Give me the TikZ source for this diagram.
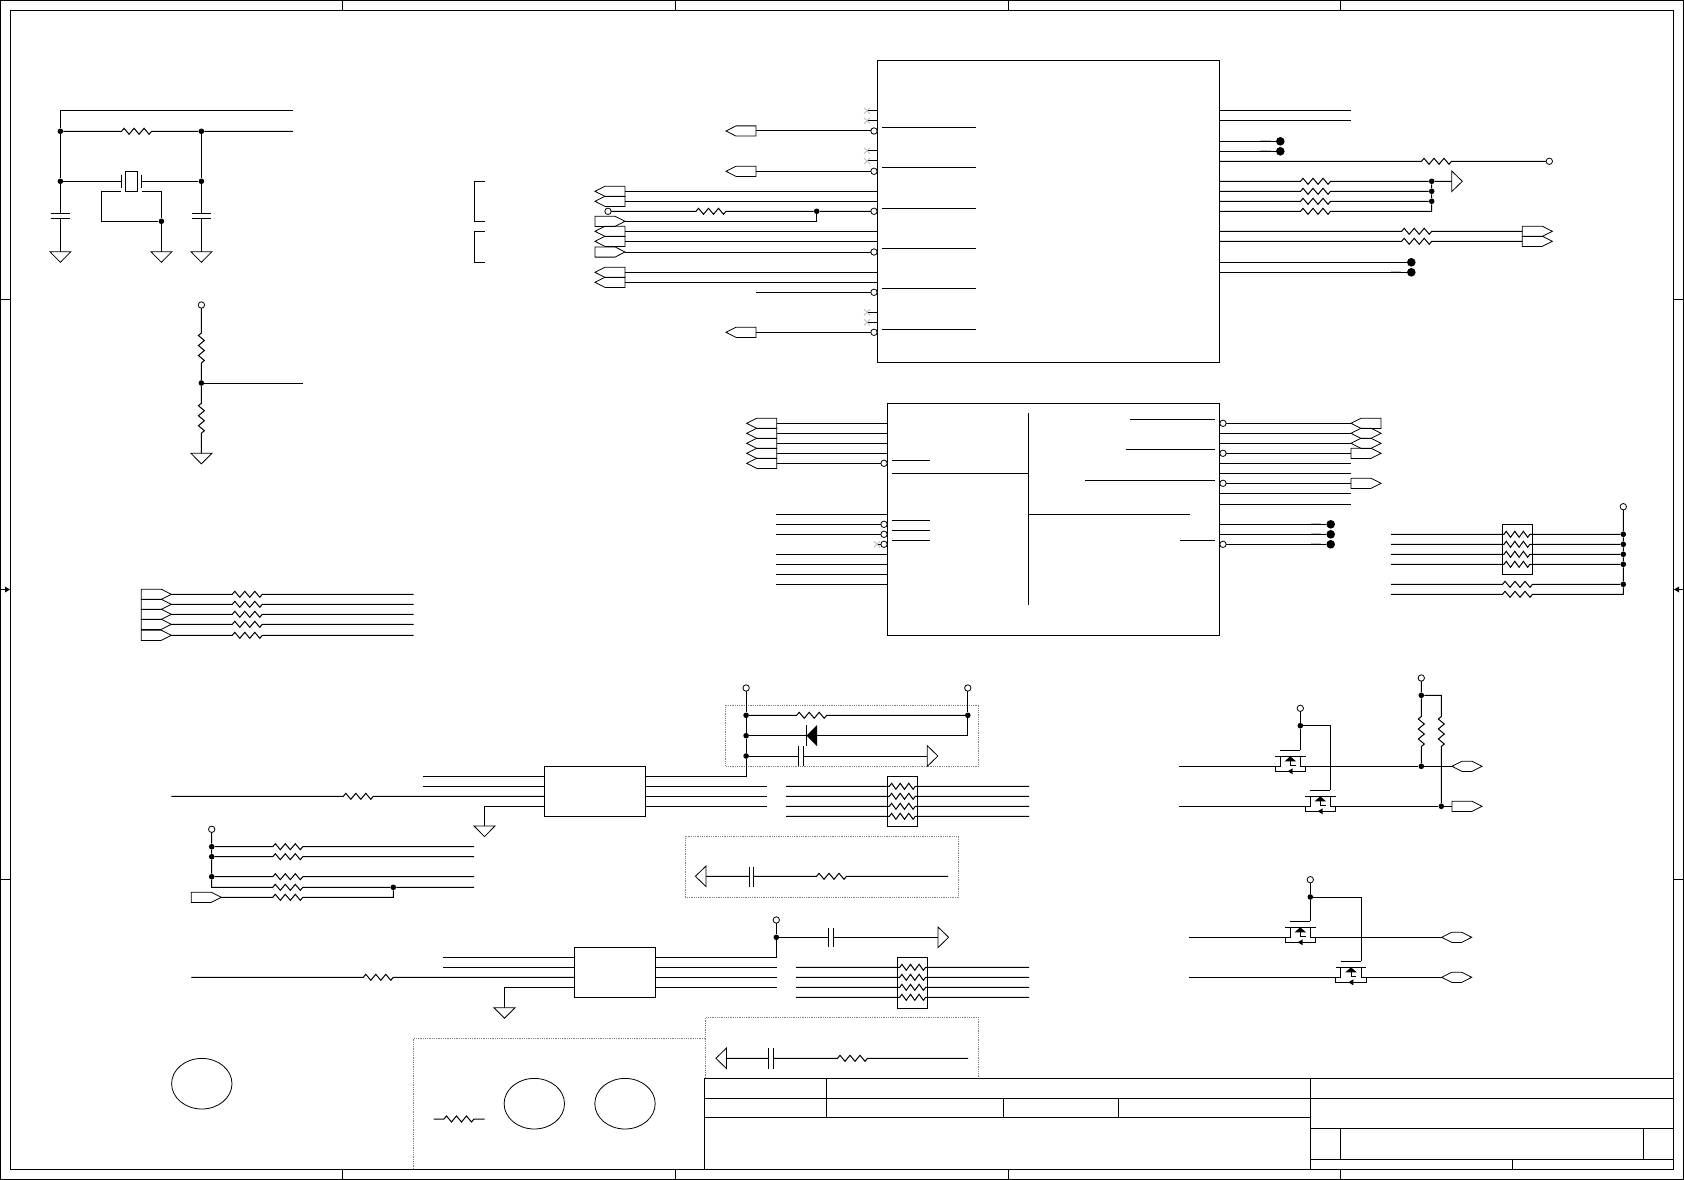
\documentclass[tikz,border=0pt]{standalone}
\usepackage{xcolor}
\usetikzlibrary{shapes.symbols}
\usetikzlibrary{shapes.geometric}
\colorlet{nccolor}{black!25}
\tikzset{wire/.style={line width=1pt},
         thinwire/.style={line width=0.8pt},
         chip/.style={draw,line width=1pt,rectangle,inner sep=0pt,outer sep=0pt,anchor=north west},
         dot/.style={circle,fill=black,inner sep=0pt,minimum size=5.6pt},
         bigdot/.style={circle,fill=black,inner sep=0pt,minimum size=8.6pt},
         opin/.style={circle,draw,fill=white,line width=0.8pt,inner sep=0pt,outer sep=0pt,minimum size=6.4pt},
         portbase/.style={draw,signal,line width=0.8pt,inner sep=0pt,outer sep=0pt,minimum width=30pt,minimum height=10.2pt,signal pointer angle=54},
         portl/.style={portbase,signal to=west},
         portr/.style={portbase,signal to=east},
         porth/.style={portbase,signal to=west and east},
         trisym/.style={draw,isosceles triangle,isosceles triangle stretches,line width=0.8pt,inner sep=0pt,outer sep=0pt,anchor=lower side},
         gndsym/.style={trisym,shape border rotate=270,minimum width=21pt,minimum height=10.6pt},
         flagr/.style={trisym,shape border rotate=0,minimum width=20.6pt,minimum height=10.6pt},
         flagl/.style={trisym,shape border rotate=180,minimum width=20.6pt,minimum height=10.6pt},
         keepout/.style={draw=black!50,densely dotted,line width=0.8pt}}
% zigzags, dropped into a wire path
\newcommand{\rh}[2]{-- (#1,#2) -- ++(2.5,-3) -- ++(5,6) -- ++(5,-6) -- ++(5,6) -- ++(5,-6) -- ++(5,6) -- ++(2.5,-3)}
\newcommand{\rp}[2]{-- (#1,#2) -- ++(2.2,-3) -- ++(4.3,6) -- ++(4.3,-6) -- ++(4.3,6) -- ++(4.3,-6) -- ++(4.3,6) -- ++(2.2,-3)}
\newcommand{\rv}[2]{-- (#1,#2) -- ++(-3,2.5) -- ++(6,5) -- ++(-6,5) -- ++(6,5) -- ++(-6,5) -- ++(6,5) -- ++(-3,2.5)}
\newcommand{\pfet}[2]{%
\draw[wire] (#1,#2-10)--++(30.7,0);
\draw[wire] (#1+5,#2-16)--++(20.3,0);
\draw[wire] (#1+5,#2-10)--(#1+5,#2)--(#1,#2)--(#1,#2+5)--(#1+30.7,#2+5)--(#1+30.7,#2)--(#1+25.3,#2)--(#1+25.3,#2-10);
\draw[wire] (#1+15.3,#2-5)--(#1+15.3,#2-1)--(#1+20,#2-1)--(#1+20,#2);
\fill (#1+15.3,#2-10)--(#1+21,#2-5)--(#1+9.6,#2-5)--cycle;
\fill (#1+12.7,#2+5)--(#1+17.7,#2+2)--(#1+17.7,#2+8)--cycle;}

\begin{document}
\begin{tikzpicture}[x=1pt,y=-1pt]
\useasboundingbox (0,0) rectangle (1684,1180);
% sheet frame
\draw[wire] (0.5,0.5) rectangle (1683,1179.5);
\draw[wire] (10.7,10.5) rectangle (1673.6,1169.2);
\foreach \x in {342.6,675.5,1008.5,1340.4} {
  \draw[wire] (\x,0.5)--(\x,10.5);
  \draw[wire] (\x,1169.2)--(\x,1179.5);
}
\foreach \y in {299.5,879.6} {
  \draw[wire] (0.5,\y)--(10.7,\y);
  \draw[wire] (1673.6,\y)--(1683,\y);
}
\draw[wire] (0.5,589.5)--(5,589.5);
\fill (10,589.5)--(5,586.5)--(5,592.5)--cycle;
\draw[wire] (1683,589.5)--(1679,589.5);
\fill (1674,589.5)--(1679,586.5)--(1679,592.5)--cycle;
% title block
\draw[wire] (704.9,1169.2)--(704.9,1078.3)--(1673.6,1078.3);
\draw[wire] (704.9,1098.3)--(1673.6,1098.3);
\draw[wire] (704.9,1117.3)--(1310.6,1117.3);
\draw[wire] (1310.6,1128.3)--(1673.6,1128.3);
\draw[wire] (1310.6,1159.3)--(1673.6,1159.3);
\draw[wire] (826.5,1078.3)--(826.5,1117.3);
\draw[wire] (1003.5,1098.3)--(1003.5,1117.3);
\draw[wire] (1118.7,1098.3)--(1118.7,1117.3);
\draw[wire] (1310.6,1078.3)--(1310.6,1169.2);
\draw[wire] (1340.3,1128.3)--(1340.3,1159.3);
\draw[wire] (1643.5,1128.3)--(1643.5,1159.3);
\draw[wire] (1512.7,1159.3)--(1512.7,1169.2);
% crystal
\node[dot] (j1) at (60.4,131.3) {};
\node[dot] (j2) at (201.4,131.3) {};
\node[dot] (j3) at (60.4,181.3) {};
\node[dot] (j4) at (201.4,181.3) {};
\node[dot] (j5) at (161.4,221.3) {};
\node[gndsym] (g1) at (60.4,251.7) {};
\node[gndsym] (g2) at (161.4,251.7) {};
\node[gndsym] (g3) at (201.4,251.7) {};
\draw[wire] (292.9,110.3)--(60.4,110.3)--(j1);
\draw[wire] (j1) \rh{121.6}{131.3} -- (j2) -- (292.9,131.3);
\draw[wire] (j1)--(j3)--(60.4,213.3) (60.4,218.3)--(g1.lower side);
\draw[wire] (j2)--(j4)--(201.4,213.3) (201.4,218.3)--(g3.lower side);
\draw[wire] (j3)--(121.8,181.3) (141.8,181.3)--(j4);
\draw[wire] (121.8,175)--(121.8,188) (141.8,175)--(141.8,188);
\draw[wire] (125.7,171.3) rectangle (137.5,191.3);
\draw[wire] (121.4,191.3)--(101.4,191.3)--(101.4,221.3)--(j5);
\draw[wire] (141.8,191.3)--(161.4,191.3)--(j5)--(g2.lower side);
\foreach \x in {60.4,201.4} {
  \draw[wire] (\x-9.7,213.3)--(\x+9.7,213.3);
  \draw[wire] (\x-9.7,218.3)--(\x+9.7,218.3);
}
\draw[wire] (484.6,181.3)--(474.3,181.3)--(474.3,221.3)--(484.6,221.3);
\draw[wire] (484.6,231.3)--(474.3,231.3)--(474.3,262.3)--(484.6,262.3);
% divider
\node[opin] (v1) at (201.4,305) {};
\node[dot] (j6) at (201.4,383) {};
\node[gndsym] (g4) at (201.4,453.3) {};
\draw[wire] (v1) \rv{201.4}{333} -- (j6) \rv{201.4}{403.2} -- (g4.lower side);
\draw[wire] (j6)--(302.9,383);
% input group left
\foreach \n/\y in {1/594.3,2/604.3,3/614.3,4/624.3,5/635.3} {
  \node[portr,anchor=west] (pa\n) at (141.3,\y) {};
  \draw[wire] (pa\n.east) \rh{232.3}{\y} -- (413.7,\y);
}
% first chip
\node[chip,minimum width=342.4pt,minimum height=301.6pt] (ua) at (877.3,60.7) {};
\foreach \y in {110.7,120.7,150.7,161,312.3,322.3} {
  \draw[wire] (866.7,\y)--(ua.west|-0,\y);
  \draw[nccolor,thinwire] (864,\y-3)--(870,\y+3) (864,\y+3)--(870,\y-3);
}
\foreach \y in {127.3,167.3,208.3,248.3,288.3,329.3}
  \draw[thinwire] (881.7,\y)--(975.7,\y);
\foreach \n/\y in {1/131,2/171.3,3/332.3} {
  \node[portl,anchor=east] (pb\n) at (756,\y) {};
  \node[opin] (ab\n) at (874,\y) {};
  \draw[wire] (pb\n.east)--(ab\n);
}
\foreach \n/\y in {1/191.3,2/201.3,3/231.3,4/241.3,5/272.3,6/282.3} {
  \node[portl,anchor=east] (pc\n) at (625,\y) {};
  \draw[wire] (pc\n.east)--(ua.west|-0,\y);
}
\node[opin] (v2) at (608,211.3) {};
\node[dot] (j7) at (816.7,211.3) {};
\node[opin] (ac1) at (874,211.3) {};
\node[portr,anchor=west] (pd1) at (595,221.3) {};
\node[portr,anchor=west] (pd2) at (595,252) {};
\node[opin] (ac2) at (874,252) {};
\node[opin] (ac3) at (874,292.3) {};
\draw[wire] (v2) \rh{696}{211.3} -- (j7)--(ac1);
\draw[wire] (pd1.east)--(816.7,221.3)--(j7);
\draw[wire] (pd2.east)--(ac2);
\draw[wire] (756,292.3)--(ac3);
\foreach \y in {110.3,120.3}
  \draw[wire] (ua.east|-0,\y)--(1351,\y);
\foreach \n/\y in {1/141.3,2/151.3} {
  \node[bigdot] (t\n) at (1280.3,\y) {};
  \draw[wire] (ua.east|-0,\y)--(t\n);
  \draw[nccolor,line width=1pt] (1260,\y-0.6)--(1270.7,\y-0.6);
}
\node[opin] (v3) at (1549.3,161.3) {};
\draw[wire] (ua.east|-0,161.3) \rh{1421.5}{161.3} -- (v3);
\node[dot] (j8) at (1431.7,181.3) {};
\node[dot] (j9) at (1431.7,191.3) {};
\node[dot] (j10) at (1431.7,201.3) {};
\node[flagr] (f1) at (1451.7,181.3) {};
\draw[wire] (ua.east|-0,181.3) \rh{1300.5}{181.3} -- (j8)--(f1.lower side);
\draw[wire] (ua.east|-0,191.3) \rh{1300.5}{191.3} -- (j9);
\draw[wire] (ua.east|-0,201.3) \rh{1300.5}{201.3} -- (j10);
\draw[wire] (ua.east|-0,211.3) \rh{1300.5}{211.3} -- (1431.7,211.3)--(j10)--(j9)--(j8);
\foreach \n/\y in {1/231.3,2/241.3} {
  \node[portr,anchor=west] (pe\n) at (1522.3,\y) {};
  \draw[wire] (ua.east|-0,\y) \rh{1401.7}{\y} -- (pe\n.west);
}
\foreach \n/\y in {1/262.3,2/272.3} {
  \node[bigdot] (u\n) at (1411.3,\y) {};
  \draw[wire] (ua.east|-0,\y)--(u\n);
}
\draw[nccolor,line width=1pt] (1391,271.7)--(1401,271.7);
% second chip
\node[chip,minimum width=332.4pt,minimum height=232pt] (ub) at (887.3,403.3) {};
\draw[wire] (1028.3,413)--(1028.3,605);
\draw[wire] (892,473.3)--(1028.3,473.3);
\draw[wire] (1028.3,514.3)--(1190,514.3);
\foreach \y in {460.3,520.3,530.3,540.3}
  \draw[thinwire] (892,\y)--(929.5,\y);
\foreach \x/\y in {1130/419.3,1126/449.3,1085/480.3,1180/540.3}
  \draw[thinwire] (\x,\y)--(1215,\y);
\foreach \n/\y in {1/423.3,2/433.3,3/443.3,4/453.3,5/463.3}
  \node[portl,anchor=east] (pf\n) at (776.7,\y) {};
\node[opin] (ad1) at (884,463.3) {};
\foreach \n/\y in {1/423.3,2/433.3,3/443.3,4/453.3}
  \draw[wire] (pf\n.east)--(ub.west|-0,\y);
\draw[wire] (pf5.east)--(ad1);
\foreach \y in {514.3,554.3,564.3,574.3,584.3}
  \draw[wire] (775.7,\y)--(ub.west|-0,\y);
\node[opin] (ad2) at (884,524.3) {};
\node[opin] (ad3) at (884,534.3) {};
\node[opin] (ad4) at (884,544.3) {};
\draw[wire] (775.7,524.3)--(ad2);
\draw[wire] (775.7,534.3)--(ad3);
\draw[wire] (878,544.3)--(ad4);
\draw[nccolor,thinwire] (874,541.3)--(880,547.3) (874,547.3)--(880,541.3);
\node[opin] (ae1) at (1223,423.3) {};
\node[opin] (ae2) at (1223,453.3) {};
\node[opin] (ae3) at (1223,483.3) {};
\node[opin] (ae4) at (1223,544.3) {};
\node[portl,anchor=west] (pg1) at (1351,423.3) {};
\node[porth,anchor=west] (pg2) at (1351,433.3) {};
\node[porth,anchor=west] (pg3) at (1351,443.3) {};
\node[portr,anchor=west] (pg4) at (1351,453.3) {};
\node[portr,anchor=west] (pg5) at (1351,483.3) {};
\draw[wire] (ae1)--(pg1.west);
\draw[wire] (ub.east|-0,433.3)--(pg2.west);
\draw[wire] (ub.east|-0,443.3)--(pg3.west);
\draw[wire] (ae2)--(pg4.west);
\draw[wire] (ae3)--(pg5.west);
\foreach \y in {463.3,473.3,493.3,504.3}
  \draw[wire] (ub.east|-0,\y)--(1351,\y);
\foreach \n/\y in {1/524.3,2/534.3,3/544.3} {
  \node[bigdot] (w\n) at (1330.7,\y) {};
  \draw[nccolor,line width=1pt] (1310.7,\y-0.6)--(1320.7,\y-0.6);
}
\draw[wire] (ub.east|-0,524.3)--(w1);
\draw[wire] (ub.east|-0,534.3)--(w2);
\draw[wire] (ae4)--(w3);
% pull ups right
\node[chip,minimum width=30pt,minimum height=50pt] (rp1) at (1502.3,524.3) {};
\node[opin] (v4) at (1623.3,506.7) {};
\foreach \n/\y in {1/534.3,2/544.3,3/554.3,4/564.3} {
  \node[dot] (k\n) at (1623.3,\y) {};
  \draw[wire] (1391,\y) -- (1504,\y) \rp{1504}{\y} -- (k\n);
}
\node[dot] (k5) at (1623.3,584.3) {};
\draw[wire] (1391,584.3) \rh{1502.5}{584.3} -- (k5);
\draw[wire] (1391,594.3) \rh{1502.5}{594.3} -- (1623.3,594.3)--(k5)--(k4)--(k3)--(k2)--(k1)--(v4);
% keepout areas
\draw[keepout] (725.7,705.3) rectangle (978.8,766);
\draw[keepout] (685.3,836.3) rectangle (958.4,897.7);
\draw[keepout] (705.3,1078)--(705.3,1017.7)--(978.8,1017.7)--(978.8,1078);
\draw[keepout] (413.5,1169)--(413.5,1038.3)--(705.3,1038.3);
% first switch
\node[chip,minimum width=101.2pt,minimum height=50pt] (sa) at (544.5,766.3) {};
\node[opin] (v5) at (746.1,688) {};
\node[opin] (v6) at (967.8,688) {};
\node[dot] (l1) at (746.1,715.3) {};
\node[dot] (l2) at (967.8,715.3) {};
\node[dot] (l3) at (746.1,735.7) {};
\node[dot] (l4) at (746.1,756) {};
\node[flagr] (f2) at (927.3,756) {};
\draw[wire] (v5)--(l1)--(l3)--(l4)--(746.1,776.3)--(sa.east|-0,776.3);
\draw[wire] (l1) \rh{796.7}{715.3} -- (l2);
\draw[wire] (v6)--(l2)--(967.8,735.7)--(817,735.7) (806.5,735.7)--(l3);
\fill (806.5,735.7)--(817,725)--(817,746)--cycle;
\draw[wire] (806.5,725)--(806.5,746);
\draw[wire] (l4)--(798.4,756) (803.3,756)--(f2.lower side);
\draw[wire] (798.4,746)--(798.4,766) (803.3,746)--(803.3,766);
\foreach \y in {776.3,786.3}
  \draw[wire] (422.9,\y)--(sa.west|-0,\y);
\draw[wire] (171.3,796.3) \rh{343.3}{796.3} -- (sa.west|-0,796.3);
\node[gndsym] (g5) at (484.5,826) {};
\draw[wire] (sa.west|-0,806.3)--(484.5,806.3)--(g5.lower side);
\foreach \y in {786.3,796.3,806.3}
  \draw[wire] (sa.east|-0,\y)--(766.5,\y);
\node[chip,minimum width=30.3pt,minimum height=50pt] (rp2) at (887.3,776.3) {};
\foreach \y in {786.3,796.3,806.3,816.3}
  \draw[wire] (786,\y) \rp{889.4}{\y} -- (1029,\y);
\node[flagl] (f3) at (706,876.3) {};
\draw[wire] (f3.lower side)--(749,876.3) (753.5,876.3) \rh{816.5}{876.3} -- (948,876.3);
\draw[wire] (749,866.7)--(749,887) (753.5,866.7)--(753.5,887);
% select lines
\node[opin] (v7) at (211.7,829.3) {};
\node[dot] (n1) at (211.7,846.7) {};
\node[dot] (n2) at (211.7,856.7) {};
\node[dot] (n3) at (211.7,876.7) {};
\node[dot] (n4) at (393.3,887.3) {};
\node[portr,anchor=west] (ph1) at (191.3,897.3) {};
\draw[wire] (v7)--(n1)--(n2)--(n3)--(211.7,887.3) \rh{272.8}{887.3} -- (n4)--(474,887.3);
\draw[wire] (n1) \rh{272.8}{846.7} -- (474,846.7);
\draw[wire] (n2) \rh{272.8}{856.7} -- (474,856.7);
\draw[wire] (n3) \rh{272.8}{876.7} -- (474,876.7);
\draw[wire] (ph1.east) \rh{272.8}{897.3} -- (393.3,897.3)--(n4);
% second switch
\node[chip,minimum width=81.2pt,minimum height=50pt] (sb) at (574.3,947.3) {};
\node[opin] (v8) at (776.3,920) {};
\node[dot] (m1) at (776.3,937.3) {};
\node[flagr] (f4) at (938,937.3) {};
\draw[wire] (v8)--(m1)--(776.3,957.3)--(sb.east|-0,957.3);
\draw[wire] (m1)--(828.6,937.3) (833.5,937.3)--(f4.lower side);
\draw[wire] (828.6,928)--(828.6,946.7) (833.5,928)--(833.5,946.7);
\foreach \y in {957.3,967.3}
  \draw[wire] (443.3,\y)--(sb.west|-0,\y);
\draw[wire] (191.3,977.3) \rh{363.3}{977.3} -- (sb.west|-0,977.3);
\node[gndsym] (g6) at (504.5,1007.7) {};
\draw[wire] (sb.west|-0,987.3)--(504.5,987.3)--(g6.lower side);
\foreach \y in {967.3,977.3,987.3}
  \draw[wire] (sb.east|-0,\y)--(776.7,\y);
\node[chip,minimum width=30.2pt,minimum height=51.4pt] (rp3) at (897.6,957.3) {};
\foreach \y in {967.3,977.3,987.3,997.3}
  \draw[wire] (796,\y) \rp{899.7}{\y} -- (1029,\y);
\node[flagl] (f5) at (726.5,1058.3) {};
\draw[wire] (f5.lower side)--(768.6,1058.3) (773.5,1058.3) \rh{837.5}{1058.3} -- (968,1058.3);
\draw[wire] (768.6,1048)--(768.6,1068.7) (773.5,1048)--(773.5,1068.7);
% holes
\node[draw,ellipse,line width=0.8pt,minimum width=60.4pt,minimum height=50.6pt,inner sep=0pt] (h1) at (201.8,1083.7) {};
\node[draw,ellipse,line width=0.8pt,minimum width=60.4pt,minimum height=50.6pt,inner sep=0pt] (h2) at (534.3,1103.7) {};
\node[draw,ellipse,line width=0.8pt,minimum width=60.4pt,minimum height=50.6pt,inner sep=0pt] (h3) at (625,1103.7) {};
\draw[wire] (433.5,1119) \rh{444}{1119} -- (484.5,1119);
% level shift one
\pfet{1275}{766.3}
\pfet{1305}{806.3}
\node[opin] (v9) at (1300.3,708.3) {};
\node[dot] (q1) at (1300.3,725.7) {};
\draw[wire] (v9)--(q1)--(1300.3,750.3);
\draw[wire] (q1)--(1330.7,725.7)--(1330.7,790.3);
\node[opin] (v10) at (1421.3,678) {};
\node[dot] (q2) at (1421.3,695.3) {};
\node[dot] (q3) at (1421.3,766.3) {};
\node[dot] (q4) at (1441.3,806.3) {};
\node[porth,anchor=west] (pj1) at (1452,766.3) {};
\node[portr,anchor=west] (pj2) at (1452,806.3) {};
\draw[wire] (v10)--(q2) \rv{1421.3}{716.5} -- (q3);
\draw[wire] (q2)--(1441.3,695.3) \rv{1441.3}{716.5} -- (q4);
\draw[wire] (1179,766.3)--(1275,766.3) (1305.7,766.3)--(q3)--(pj1.west);
\draw[wire] (1179,806.3)--(1305,806.3) (1335.7,806.3)--(q4)--(pj2.west);
% level shift two
\pfet{1285}{937.3}
\pfet{1335.7}{977.3}
\node[opin] (v11) at (1310.3,879.7) {};
\node[dot] (q5) at (1310.3,897) {};
\node[porth,anchor=west] (pk1) at (1441.7,937.3) {};
\node[porth,anchor=west] (pk2) at (1441.7,977.3) {};
\draw[wire] (v11)--(q5)--(1310.3,921.3);
\draw[wire] (q5)--(1361.7,897)--(1361.7,961.3);
\draw[wire] (1189,937.3)--(1285,937.3) (1315.7,937.3)--(pk1.west);
\draw[wire] (1189,977.3)--(1335.7,977.3) (1366.4,977.3)--(pk2.west);
\end{tikzpicture}
\end{document}
